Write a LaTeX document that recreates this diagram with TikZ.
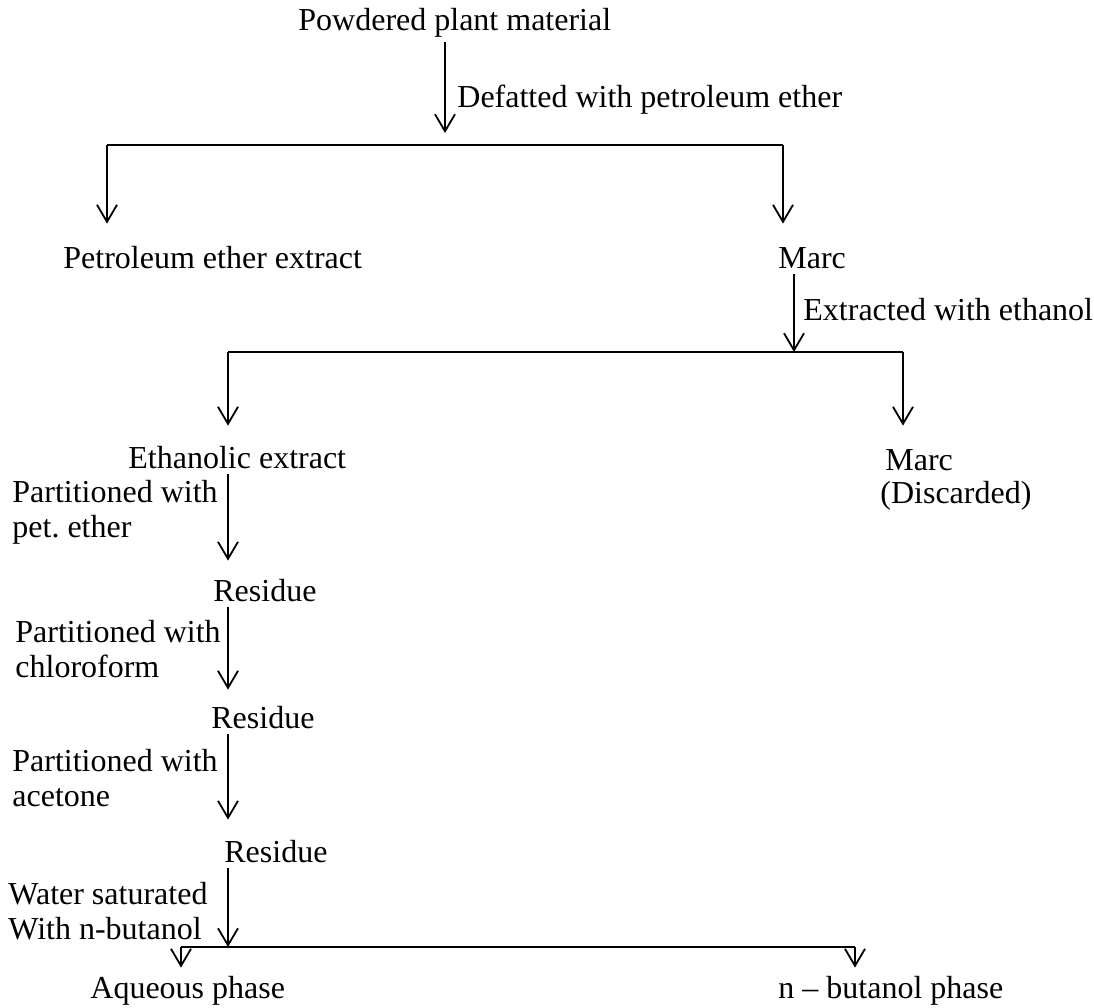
\documentclass[tikz,border=0pt]{standalone}
\usepackage{fontspec}
\setmainfont{Liberation Serif}
\usetikzlibrary{arrows.meta}

\begin{document}
\begin{tikzpicture}[x=0.5pt, y=-0.5pt,
    every node/.style={font=\fontsize{16}{17.5}\selectfont, inner sep=0pt},
    stage/.style={anchor=base west, text height=11pt, text depth=0pt},
    lbl/.style={anchor=base west, align=left},
    arr/.style={-{Straight Barb[length=8.5pt,width=10pt]}, line width=0.9pt, shorten <=3pt},
    bar/.style={line width=1.1pt}]
  \useasboundingbox (0,0) rectangle (1094,1008);

  % products of each step
  \node[stage] (pwd)    at (298,30)  {Powdered plant material};
  \node[stage] (petext) at (63,268)  {Petroleum ether extract};
  \node[stage] (marc1)  at (778,268) {Marc};
  \node[stage] (ethext) at (128,468) {Ethanolic extract};
  \node[stage] (marc2)  at (885,470) {Marc};
  \node[stage] (disc)   at (880,503) {(Discarded)};
  \node[stage] (res1)   at (213,601) {Residue};
  \node[stage] (res2)   at (211,728) {Residue};
  \node[stage] (res3)   at (224,862) {Residue};
  \node[stage] (aq)     at (90,998)  {Aqueous phase};
  \node[stage] (but)    at (778,998) {n -- butanol phase};

  % split points
  \coordinate (j1) at (445,145);
  \coordinate (l1) at (107,145);
  \coordinate (r1) at (783,145);
  \coordinate (j2) at (794,352);
  \coordinate (l2) at (228,352);
  \coordinate (r2) at (903,352);
  \coordinate (j3) at (228,947);
  \coordinate (l3) at (181,947);
  \coordinate (r3) at (855,947);

  % first extraction
  \draw[arr, shorten <=6pt, shorten >=6pt] (pwd.south -| j1) -- (j1);
  \node[lbl] (defat) at (457,107) {Defatted with petroleum ether};
  \draw[bar] (l1) -- (r1);
  \draw[arr, shorten <=0pt, shorten >=11pt] (l1) -- (petext.north -| l1);
  \draw[arr, shorten <=0pt, shorten >=11pt] (r1) -- (marc1.north -| r1);

  % second extraction
  \draw[arr] (marc1.south -| j2) -- (j2);
  \node[lbl] (ethlbl) at (803,320) {Extracted with ethanol};
  \draw[bar] (l2) -- (r2);
  \draw[arr, shorten <=0pt, shorten >=10pt] (l2) -- (ethext.north -| l2);
  \draw[arr, shorten <=0pt, shorten >=11pt] (r2) -- (marc2.north -| r2);

  % partitioning (multi-line labels sit on their last baseline)
  \draw[arr, shorten >=9pt] (ethext.south -| l2) -- (res1.north -| l2);
  \node[lbl] (part1) at (12,537) {Partitioned with\\pet.\ ether};
  \draw[arr, shorten >=8pt] (res1.south -| l2) -- (res2.north -| l2);
  \node[lbl] (part2) at (15,677) {Partitioned with\\chloroform};
  \draw[arr, shorten >=10pt] (res2.south -| l2) -- (res3.north -| l2);
  \node[lbl] (part3) at (12,806) {Partitioned with\\acetone};
  \draw[arr] (res3.south -| j3) -- (j3);
  \node[lbl] (water) at (8,939) {Water saturated\\With n-butanol};
  \draw[bar] (l3) -- (r3);
  \draw[arr, shorten <=0pt, shorten >=4pt] (l3) -- (aq.north -| l3);
  \draw[arr, shorten <=0pt, shorten >=4pt] (r3) -- (but.north -| r3);
\end{tikzpicture}
\end{document}
